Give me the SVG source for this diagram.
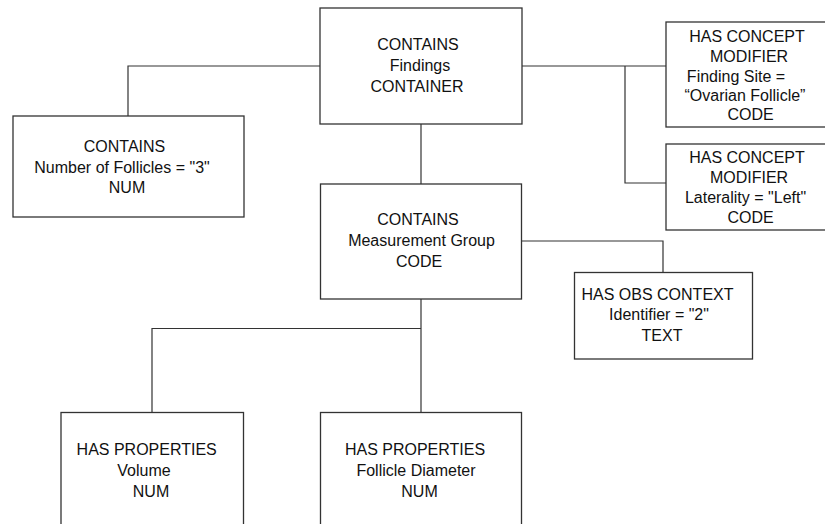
<svg xmlns="http://www.w3.org/2000/svg" width="825" height="524" viewBox="0 0 825 524">
  <style>
    .box { fill: #ffffff; stroke: #333333; stroke-width: 1.3; }
    .wire { fill: none; stroke: #333333; stroke-width: 1.2; }
    text { font-family: "Liberation Sans", Arial, sans-serif; font-size: 16px; fill: #111111; text-anchor: middle; }
  </style>
  <rect width="825" height="524" fill="#ffffff"/>

  <!-- connectors -->
  <g id="connectors">
    <polyline class="wire" points="320,66 128,66 128,116"/>
    <polyline class="wire" points="522,66 666,66"/>
    <polyline class="wire" points="625,66 625,183 666,183"/>
    <line class="wire" x1="421" y1="124" x2="421" y2="184"/>
    <polyline class="wire" points="522,241 663,241 663,272"/>
    <line class="wire" x1="421" y1="299" x2="421" y2="412"/>
    <polyline class="wire" points="421,328.5 152,328.5 152,412"/>
  </g>

  <!-- CONTAINS Findings CONTAINER -->
  <g id="findings">
    <rect class="box" x="320" y="8" width="202" height="116"/>
    <text x="418" y="50">CONTAINS</text>
    <text x="420" y="71">Findings</text>
    <text x="417" y="92">CONTAINER</text>
  </g>

  <!-- CONTAINS Number of Follicles -->
  <g id="num-follicles">
    <rect class="box" x="13" y="116" width="231" height="101"/>
    <text x="124.5" y="152">CONTAINS</text>
    <text x="122" y="173">Number of Follicles = "3"</text>
    <text x="127" y="193">NUM</text>
  </g>

  <!-- HAS CONCEPT MODIFIER Finding Site -->
  <g id="finding-site">
    <rect class="box" x="666" y="22" width="170" height="105"/>
    <text x="747" y="42">HAS CONCEPT</text>
    <text x="749" y="62">MODIFIER</text>
    <text x="736" y="82">Finding Site =</text>
    <text x="745" y="101">“Ovarian Follicle”</text>
    <text x="750.5" y="120">CODE</text>
  </g>

  <!-- HAS CONCEPT MODIFIER Laterality -->
  <g id="laterality">
    <rect class="box" x="666" y="144" width="170" height="86"/>
    <text x="747" y="163">HAS CONCEPT</text>
    <text x="749" y="183">MODIFIER</text>
    <text x="745.5" y="203">Laterality = "Left"</text>
    <text x="750.5" y="223">CODE</text>
  </g>

  <!-- CONTAINS Measurement Group -->
  <g id="measurement-group">
    <rect class="box" x="320.5" y="184" width="201" height="115"/>
    <text x="418" y="225">CONTAINS</text>
    <text x="421.5" y="246">Measurement Group</text>
    <text x="419" y="267">CODE</text>
  </g>

  <!-- HAS OBS CONTEXT Identifier -->
  <g id="obs-context">
    <rect class="box" x="574.5" y="272.5" width="178" height="86.5"/>
    <text x="657.5" y="299.5">HAS OBS CONTEXT</text>
    <text x="659" y="320">Identifier = "2"</text>
    <text x="662" y="341">TEXT</text>
  </g>

  <!-- HAS PROPERTIES Volume -->
  <g id="volume">
    <rect class="box" x="61" y="412.5" width="182.5" height="120"/>
    <text x="146.7" y="455">HAS PROPERTIES</text>
    <text x="144" y="476">Volume</text>
    <text x="151" y="496.5">NUM</text>
  </g>

  <!-- HAS PROPERTIES Follicle Diameter -->
  <g id="follicle-diameter">
    <rect class="box" x="320.5" y="412.5" width="201" height="120"/>
    <text x="415" y="455">HAS PROPERTIES</text>
    <text x="416" y="476">Follicle Diameter</text>
    <text x="419.5" y="496.5">NUM</text>
  </g>
</svg>
